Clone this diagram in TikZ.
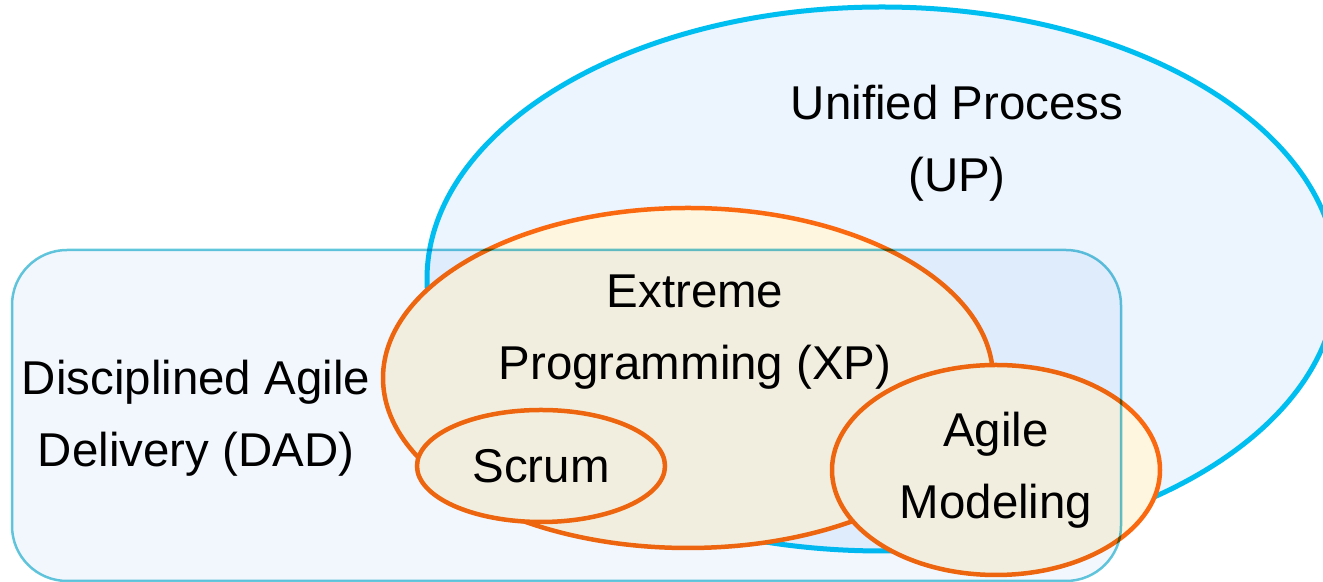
\documentclass[tikz,border=0pt]{standalone}
\usepackage{fontspec}
\setmainfont{Liberation Sans}
\usepackage{tikz}
\usetikzlibrary{shapes.geometric}
\definecolor{upblue}{RGB}{0,190,240}
\definecolor{upfill}{RGB}{236,244,253}
\definecolor{xporange}{RGB}{250,105,15}
\definecolor{xpfill}{RGB}{255,246,224}
\definecolor{dadteal}{RGB}{100,200,220}
\definecolor{dadfill}{RGB}{242,247,254}
\tikzset{
    every node/.style={inner sep=0mm, align=center, font=\fontsize{27}{41}\selectfont}
}
\tikzset{
    upbox/.style={ellipse, draw=upblue, line width=.1cm, fill=upfill},
    xpbox/.style={ellipse, draw=xporange, line width=.09cm, fill=xpfill},
    dadbox/.style={rectangle, rounded corners=1.1cm, draw=dadteal, line width=.05cm, fill=dadfill, blend mode=multiply}
}

\begin{document}
\begin{tikzpicture}
        \useasboundingbox (0cm, 0cm) rectangle (26.46cm, 11.64cm);
        \node (up) [upbox, minimum width=18.2cm, minimum height=10.88cm] at (17.64cm, 6.06cm) {};
        \node (upText) at (19.14cm, 8.78cm) {Unified Process\\(UP)};
        \node (xp) [xpbox, minimum width=12.2cm, minimum height=6.8cm] at (13.76cm, 4.08cm) {};
        \node (xpText) at (13.90cm, 5.00cm) {Extreme\\Programming (XP)};
        \node (scrum) [xpbox, minimum width=4.96cm, minimum height=2.24cm] at (10.82cm, 2.32cm) {Scrum};
        \node (am) [xpbox, minimum width=6.56cm, minimum height=4.2cm] at (19.92cm, 2.24cm) {Agile\\Modeling};
        \node (dad) [dadbox, minimum width=22.18cm, minimum height=6.62cm] at (11.33cm, 3.33cm) {};
        \node (dadText) at (3.92cm, 3.28cm) {Disciplined Agile\\Delivery (DAD)};
\end{tikzpicture}
\end{document}
